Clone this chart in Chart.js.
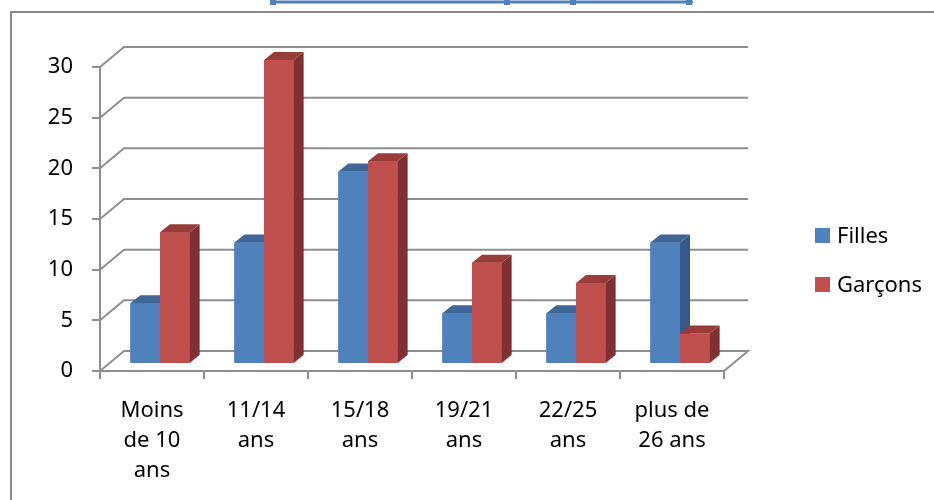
<!DOCTYPE html>
<html>
<head>
<meta charset="utf-8">
<script src="https://cdn.jsdelivr.net/npm/chart.js@4.4.0/dist/chart.umd.min.js"></script>
<style>
  html, body { margin: 0; padding: 0; background: #fff; }
  canvas { display: block; }
</style>
</head>
<body>
<canvas id="myChart" width="934" height="500"></canvas>
<script>
// data
const categories = [
    ['Moins', 'de 10', 'ans'],
    ['11/14', 'ans'],
    ['15/18', 'ans'],
    ['19/21', 'ans'],
    ['22/25', 'ans'],
    ['plus de', '26 ans']
];
const filles = [6, 12, 19, 5, 5, 12];
const garcons = [13, 30, 20, 10, 8, 3];
const yMin = 0;
const yMax = 30;
const yStep = 5;

// look
const gridColor = '#8e8e8e';
const frontColors = ['#4f81bd', '#c0504d'];
const topColors = ['#3e6697', '#9a3c39'];
const sideColors = ['#36598a', '#7f312f'];
const wall = { x: 24, y: -20 };     // depth of the back wall
const shift = { x: 8, y: -7 };      // where the bars sit inside the depth
const barDepth = { x: 10, y: -8 };  // thickness of each bar

Chart.defaults.font.family = '"Noto Sans", sans-serif';
Chart.defaults.font.size = 22;
Chart.defaults.color = '#000';

function poly(ctx, pts, fill) {
    ctx.beginPath();
    ctx.moveTo(pts[0][0], pts[0][1]);
    for (let i = 1; i < pts.length; i++) ctx.lineTo(pts[i][0], pts[i][1]);
    ctx.closePath();
    ctx.fillStyle = fill;
    ctx.fill();
}

const threeD = {
    id: 'threeD',
    beforeDraw(chart) {
        const ctx = chart.ctx;
        ctx.save();
        // outer frame
        ctx.strokeStyle = '#8a8a8a';
        ctx.lineWidth = 2;
        ctx.beginPath();
        ctx.moveTo(11, 500);
        ctx.lineTo(11, 12);
        ctx.lineTo(934, 12);
        ctx.stroke();
        // selected title box, cut at the top
        ctx.strokeStyle = '#4f81bd';
        ctx.lineWidth = 3;
        ctx.beginPath();
        ctx.moveTo(270, 2);
        ctx.lineTo(693, 2);
        ctx.stroke();
        ctx.fillStyle = '#4f81bd';
        [273, 507, 573, 689].forEach(x => ctx.fillRect(x - 3, 0, 6, 5));
        ctx.restore();
    },
    beforeDatasetsDraw(chart) {
        const { ctx, chartArea: a, scales: { y } } = chart;
        ctx.save();
        ctx.strokeStyle = gridColor;
        ctx.lineWidth = 2;
        y.ticks.forEach(t => {
            const py = y.getPixelForValue(t.value);
            ctx.beginPath();
            ctx.moveTo(a.left, py);
            ctx.lineTo(a.left + wall.x, py + wall.y);
            ctx.lineTo(a.right + wall.x, py + wall.y);
            if (t.value === yMin) ctx.lineTo(a.right, py);
            ctx.stroke();
        });
        ctx.restore();
        ctx.save();
        ctx.translate(shift.x, shift.y);
    },
    afterDatasetsDraw(chart) {
        const ctx = chart.ctx;
        const metas = [chart.getDatasetMeta(0), chart.getDatasetMeta(1)];
        for (let i = 0; i < categories.length; i++) {
            metas.forEach((m, k) => {
                const b = m.data[i].getProps(['x', 'y', 'base', 'width'], true);
                const l = b.x - b.width / 2, r = b.x + b.width / 2;
                const dx = barDepth.x, dy = barDepth.y;
                ctx.fillStyle = frontColors[k];
                ctx.fillRect(l, b.y, b.width, b.base - b.y);
                poly(ctx, [[r, b.y], [r + dx, b.y + dy], [r + dx, b.base + dy], [r, b.base]], sideColors[k]);
                poly(ctx, [[l, b.y], [l + dx, b.y + dy], [r + dx, b.y + dy], [r, b.y]], topColors[k]);
            });
        }
        ctx.restore();
    },
    afterDraw(chart) {
        const ctx = chart.ctx;
        ctx.save();
        ctx.font = '22px "Noto Sans"';
        ctx.textBaseline = 'alphabetic';
        ctx.textAlign = 'left';
        chart.data.datasets.forEach((ds, k) => {
            const base = 243 + k * 49;
            ctx.fillStyle = ds.backgroundColor;
            ctx.fillRect(815, base - 15, 15, 15);
            ctx.fillStyle = '#000';
            ctx.fillText(ds.label, 837, base);
        });
        ctx.restore();
    }
};

const ctx = document.getElementById('myChart').getContext('2d');
const chart = new Chart(ctx, {
    type: 'bar',
    data: {
        labels: categories,
        datasets: [{
            label: 'Filles',
            data: filles,
            backgroundColor: frontColors[0],
            borderWidth: 0,
            clip: false
        }, {
            label: 'Garçons',
            data: garcons,
            backgroundColor: frontColors[1],
            borderWidth: 0,
            clip: false
        }]
    },
    options: {
        responsive: false,
        animation: false,
        devicePixelRatio: 1,
        categoryPercentage: 0.57,
        barPercentage: 1,
        layout: { padding: { left: 10, top: 67, right: 210, bottom: 0 } },
        plugins: {
            legend: { display: false },
            tooltip: { enabled: false }
        },
        scales: {
            x: {
                grid: { drawOnChartArea: false, tickLength: 8, color: gridColor, lineWidth: 2 },
                border: { display: true, color: gridColor, width: 2 },
                ticks: { padding: 17, maxRotation: 0, autoSkip: false, font: { lineHeight: 1.35 } },
                afterFit(scale) { scale.height = 129; }
            },
            y: {
                min: yMin,
                max: yMax,
                grid: { drawOnChartArea: false, tickLength: 8, color: gridColor, lineWidth: 2 },
                border: { display: true, color: gridColor, width: 2 },
                ticks: { stepSize: yStep, padding: 19 },
                afterFit(scale) { scale.width = 90; }
            }
        }
    },
    plugins: [threeD]
});
</script>
</body>
</html>
